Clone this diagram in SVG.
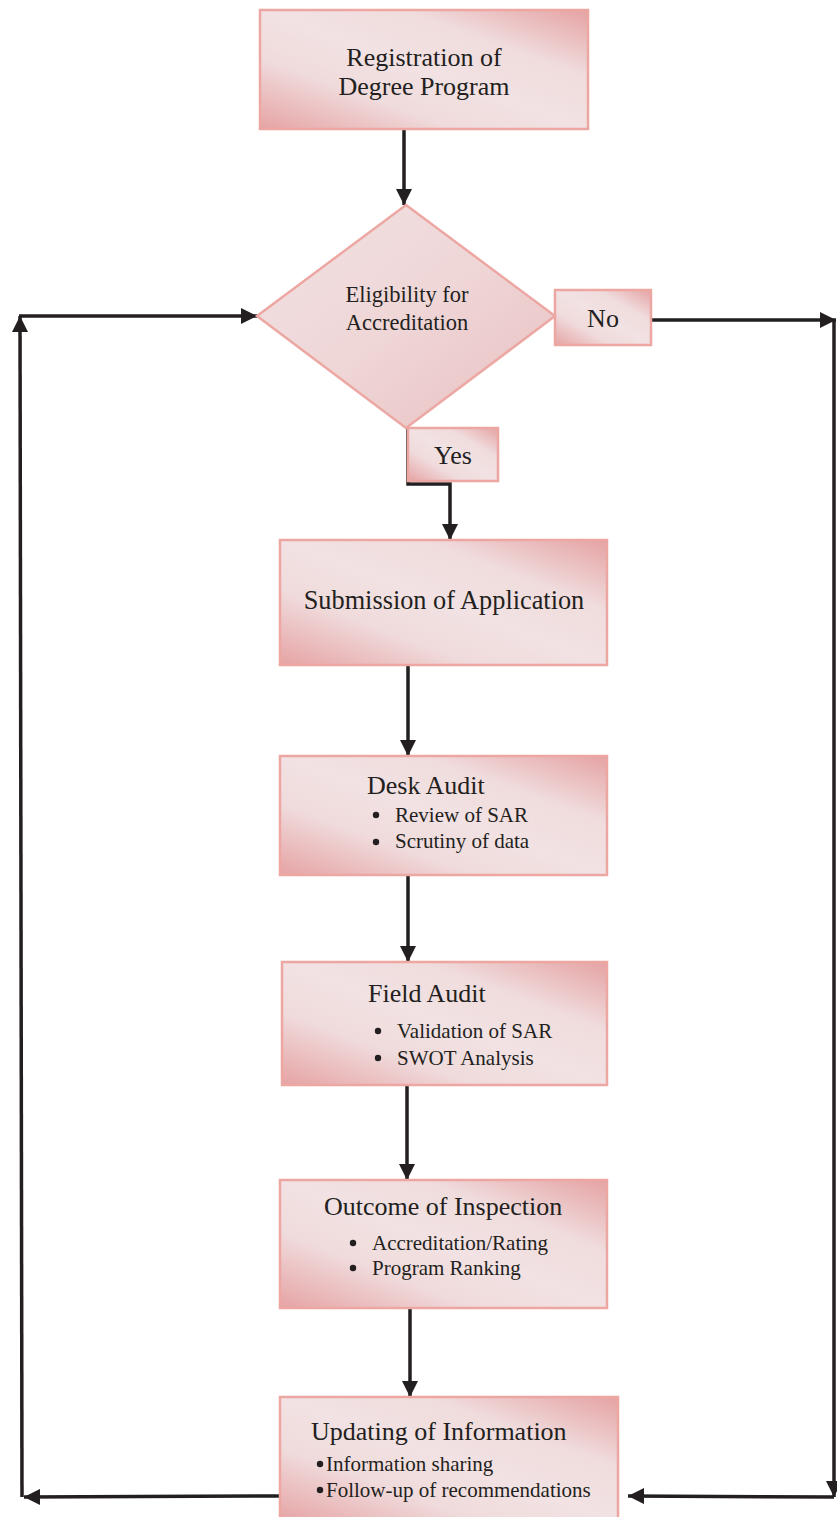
<svg xmlns="http://www.w3.org/2000/svg" width="837" height="1517" viewBox="0 0 837 1517">
<defs>
<style>
.box{stroke:#eda7a3;stroke-width:2.5;fill:url(#gb)}
.dia{stroke:#eda7a3;stroke-width:2.5;fill:url(#gd)}
.t{font-family:"Liberation Serif","Times New Roman",serif;fill:#231f20}
.big{font-size:26px}
.mid{font-size:22.5px}
.sm{font-size:21px}
.c{stroke:#231f20;stroke-width:3.5;fill:none;marker-end:url(#ah)}
</style>
<linearGradient id="gb" x1="0" y1="1" x2="1" y2="0">
<stop offset="0" stop-color="#e6a3a4"/>
<stop offset="0.3" stop-color="#f0dbdc"/>
<stop offset="0.5" stop-color="#f2e2e3"/>
<stop offset="0.72" stop-color="#f0dcdd"/>
<stop offset="1" stop-color="#e5a2a3"/>
</linearGradient>
<linearGradient id="gd" x1="0" y1="0" x2="1" y2="1">
<stop offset="0" stop-color="#f2e2e3"/>
<stop offset="0.5" stop-color="#efd6d7"/>
<stop offset="1" stop-color="#e9bfc0"/>
</linearGradient>
<marker id="ah" markerUnits="userSpaceOnUse" markerWidth="18" markerHeight="16" refX="16" refY="8" orient="auto">
<path d="M0,0 L16,8 L0,16 z" fill="#231f20"/>
</marker>
</defs>

<g id="connectors">
<line class="c" x1="404" y1="129" x2="404" y2="205"/>
<polyline class="c" points="408,428 408,484 450,484 450,540"/>
<line class="c" x1="408" y1="665" x2="408" y2="756"/>
<line class="c" x1="408" y1="875" x2="408" y2="962"/>
<line class="c" x1="407" y1="1085" x2="407" y2="1180"/>
<line class="c" x1="410" y1="1308" x2="410" y2="1397"/>
<line class="c" x1="651" y1="320" x2="836" y2="320"/>
<line class="c" x1="834" y1="320" x2="834" y2="1497"/>
<line class="c" x1="834" y1="1497" x2="628" y2="1496"/>
<line class="c" x1="280" y1="1496" x2="24" y2="1497"/>
<line class="c" x1="22" y1="1497" x2="20" y2="316"/>
<line class="c" x1="19" y1="316" x2="257" y2="316"/>
</g>

<g id="registration">
<rect class="box" x="260" y="10" width="328" height="119"/>
<text class="t big" x="424" y="66" text-anchor="middle">Registration of</text>
<text class="t big" x="424" y="95" text-anchor="middle">Degree Program</text>
</g>

<g id="eligibility">
<polygon class="dia" points="406,205 555,316 406,428 257,316"/>
<text class="t mid" x="407" y="302" text-anchor="middle">Eligibility for</text>
<text class="t mid" x="407" y="330" text-anchor="middle">Accreditation</text>
</g>

<g id="no">
<rect class="box" x="555" y="290" width="96" height="55"/>
<text class="t big" x="603" y="327" text-anchor="middle">No</text>
</g>

<g id="yes">
<rect class="box" x="408" y="428" width="90" height="53"/>
<text class="t big" x="453" y="464" text-anchor="middle">Yes</text>
</g>

<g id="submission">
<rect class="box" x="280" y="540" width="327" height="125"/>
<text class="t" font-size="26.3" x="444" y="609" text-anchor="middle">Submission of Application</text>
</g>

<g id="desk-audit">
<rect class="box" x="280" y="756" width="327" height="119"/>
<text class="t big" x="367" y="794">Desk Audit</text>
<circle cx="376" cy="815" r="3.2" fill="#231f20"/>
<text class="t sm" x="395" y="822">Review of SAR</text>
<circle cx="376" cy="842" r="3.2" fill="#231f20"/>
<text class="t sm" x="395" y="848">Scrutiny of data</text>
</g>

<g id="field-audit">
<rect class="box" x="282" y="962" width="325" height="123"/>
<text class="t big" x="368" y="1002">Field Audit</text>
<circle cx="378" cy="1031" r="3.2" fill="#231f20"/>
<text class="t sm" x="397" y="1038">Validation of SAR</text>
<circle cx="378" cy="1058" r="3.2" fill="#231f20"/>
<text class="t sm" x="397" y="1065">SWOT Analysis</text>
</g>

<g id="outcome">
<rect class="box" x="280" y="1180" width="327" height="128"/>
<text class="t big" x="324" y="1215">Outcome of Inspection</text>
<circle cx="353" cy="1243" r="3.2" fill="#231f20"/>
<text class="t sm" x="372" y="1250">Accreditation/Rating</text>
<circle cx="353" cy="1268" r="3.2" fill="#231f20"/>
<text class="t sm" x="372" y="1275">Program Ranking</text>
</g>

<g id="updating">
<rect class="box" x="280" y="1397" width="338" height="125"/>
<text class="t big" x="311" y="1440">Updating of Information</text>
<circle cx="320" cy="1464" r="3.2" fill="#231f20"/>
<text class="t sm" x="326" y="1471">Information sharing</text>
<circle cx="320" cy="1490" r="3.2" fill="#231f20"/>
<text class="t sm" x="326" y="1497">Follow-up of recommendations</text>
</g>
</svg>
